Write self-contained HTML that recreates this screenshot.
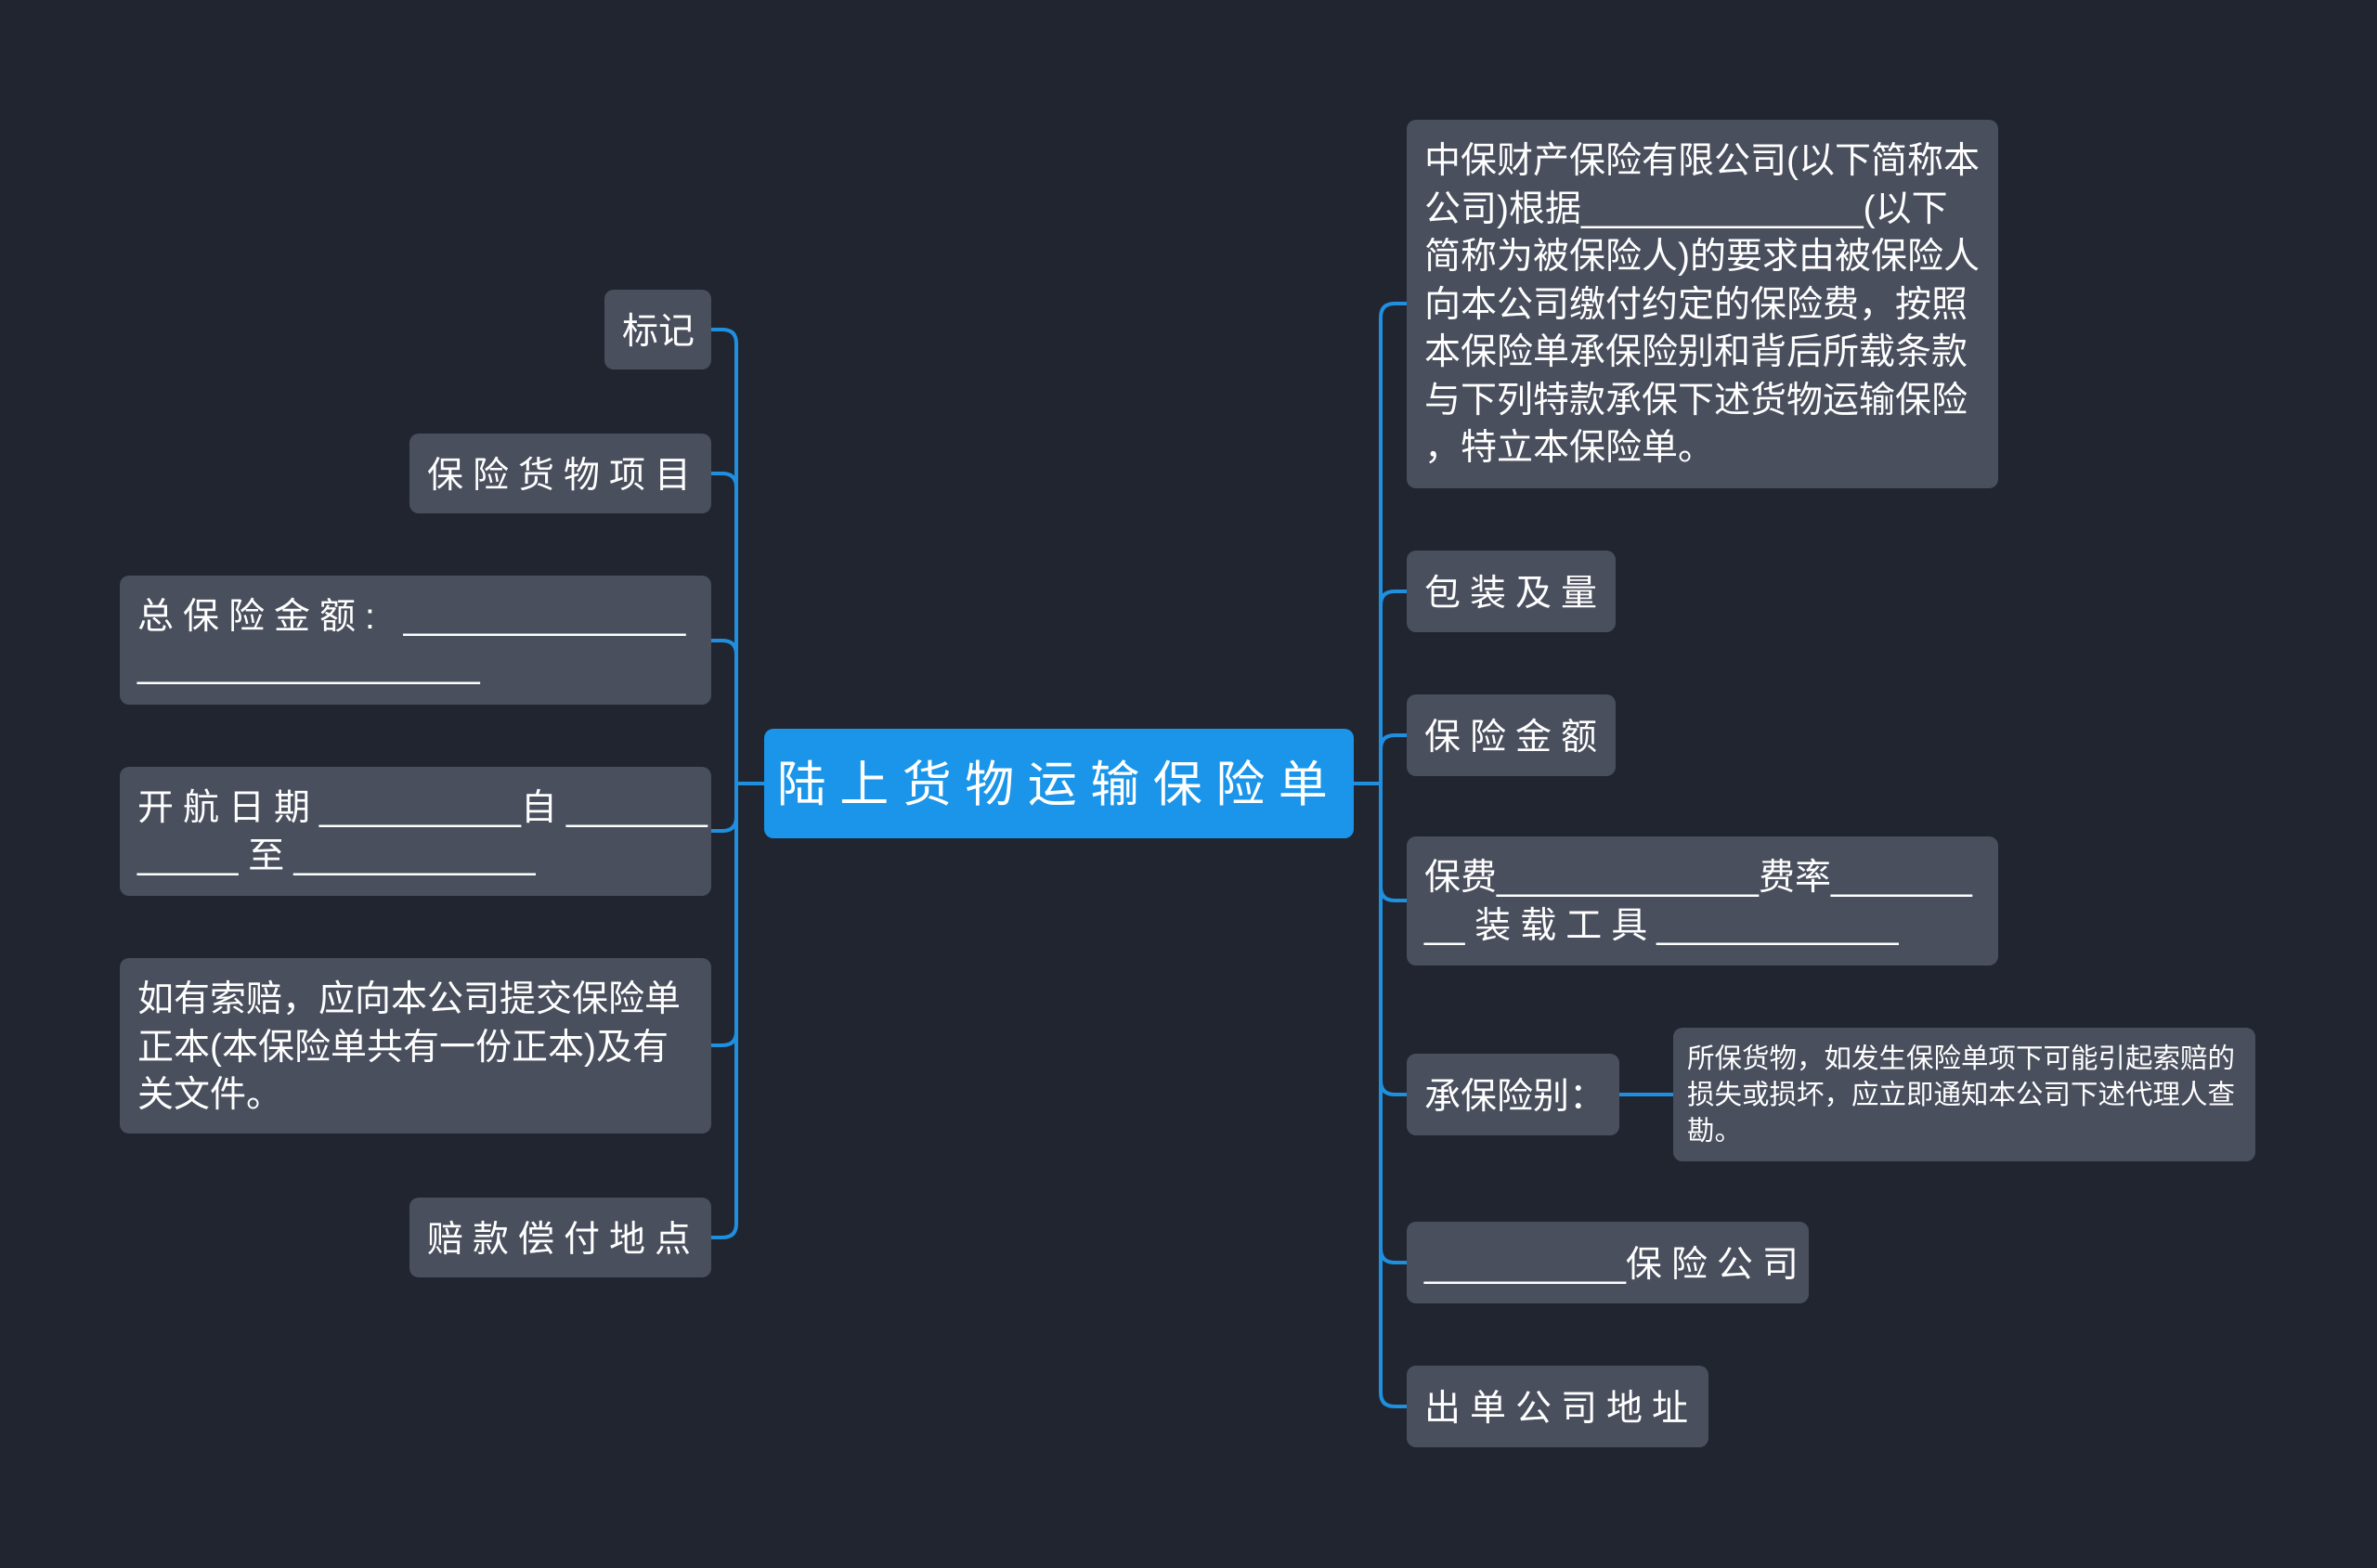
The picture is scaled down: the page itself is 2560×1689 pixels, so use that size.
<!DOCTYPE html>
<html><head><meta charset="utf-8"><style>
html,body{margin:0;padding:0;}
body{width:2560px;height:1689px;background:#21252f;position:relative;overflow:hidden;font-family:"Liberation Sans","Noto Sans CJK SC",sans-serif;color:#fff;}
.n{position:absolute;background:#4a4f5e;border-radius:10px;box-sizing:border-box;font-size:39px;line-height:51.5px;padding:19px 19px 10px;white-space:pre;}
.s{letter-spacing:10px;}
.c{position:absolute;left:823px;top:785px;width:635px;height:118px;background:#1b95e9;border-radius:10px;font-size:53px;letter-spacing:14.5px;line-height:122px;text-align:center;}
svg{position:absolute;left:0;top:0;}
</style></head><body>
<svg width="2560" height="1689" fill="none" stroke="#1f8fe0" stroke-width="4">
<path d="M823 844 H793"/>
<path d="M793 844 V370 Q793 355 778 355 H766"/>
<path d="M793 844 V525 Q793 510 778 510 H766"/>
<path d="M793 844 V705 Q793 690 778 690 H766"/>
<path d="M793 844 V880 Q793 895 778 895 H766"/>
<path d="M793 844 V1111 Q793 1126 778 1126 H766"/>
<path d="M793 844 V1318 Q793 1333 778 1333 H766"/>
<path d="M1458 844 H1487"/>
<path d="M1487 844 V342 Q1487 327 1502 327 H1515"/>
<path d="M1487 844 V652 Q1487 637 1502 637 H1515"/>
<path d="M1487 844 V807 Q1487 792 1502 792 H1515"/>
<path d="M1487 844 V955 Q1487 970 1502 970 H1515"/>
<path d="M1487 844 V1164 Q1487 1179 1502 1179 H1515"/>
<path d="M1487 844 V1345 Q1487 1360 1502 1360 H1515"/>
<path d="M1487 844 V1500 Q1487 1515 1502 1515 H1515"/>
<path d="M1744 1179 H1802"/>
</svg>
<div class="c">陆上货物运输保险单</div>

<div class="n" style="left:651px;top:312px;width:115px;height:86px;line-height:54px;">标记</div>
<div class="n s" style="left:441px;top:467px;width:325px;height:86px;line-height:54px;">保险货物项目</div>
<div class="n s" style="left:129px;top:620px;width:637px;height:139px;">总保险金额: <span style="letter-spacing:0">______________</span>
<span style="letter-spacing:0">_________________</span></div>
<div class="n s" style="left:129px;top:826px;width:637px;height:139px;">开航日期<span style="letter-spacing:0">__________</span>自<span style="letter-spacing:0">_______</span>
<span style="letter-spacing:0">_____ </span>至<span style="letter-spacing:0">____________</span></div>
<div class="n" style="left:129px;top:1032px;width:637px;height:189px;">如有索赔，应向本公司提交保险单
正本(本保险单共有一份正本)及有
关文件。</div>
<div class="n s" style="left:441px;top:1290px;width:325px;height:86px;line-height:54px;">赔款偿付地点</div>

<div class="n" style="left:1515px;top:129px;width:637px;height:397px;">中保财产保险有限公司(以下简称本
公司)根据<span>______________</span>(以下
简称为被保险人)的要求由被保险人
向本公司缴付约定的保险费，按照
本保险单承保险别和背后所载条款
与下列特款承保下述货物运输保险
，特立本保险单。</div>
<div class="n s" style="left:1515px;top:593px;width:225px;height:88px;line-height:56px;">包装及量</div>
<div class="n s" style="left:1515px;top:748px;width:225px;height:88px;line-height:56px;">保险金额</div>
<div class="n" style="left:1515px;top:901px;width:637px;height:139px;">保费<span>_____________</span>费率<span>_______</span>
<span>__ </span><span class="s">装载工具</span><span>____________</span></div>
<div class="n" style="left:1515px;top:1135px;width:229px;height:88px;line-height:56px;">承保险别：</div>
<div class="n" style="left:1802px;top:1107px;width:627px;height:144px;font-size:29.5px;line-height:39px;padding:14px 15px 8px;">所保货物，如发生保险单项下可能引起索赔的
损失或损坏，应立即通知本公司下述代理人查
勘。</div>
<div class="n" style="left:1515px;top:1316px;width:433px;height:88px;line-height:56px;"><span>__________</span><span class="s">保险公司</span></div>
<div class="n s" style="left:1515px;top:1471px;width:325px;height:88px;line-height:56px;">出单公司地址</div>
</body></html>
